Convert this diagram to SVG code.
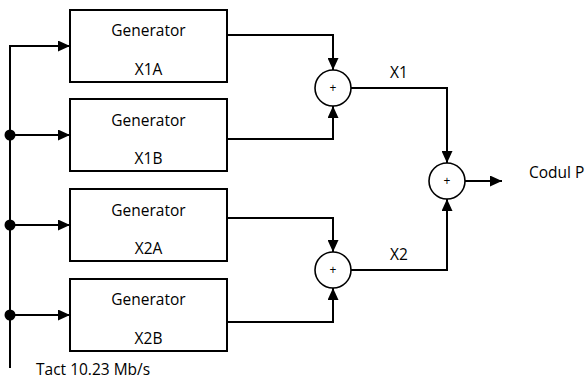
<svg xmlns="http://www.w3.org/2000/svg" width="585" height="380" viewBox="0 0 585 380">
<style>
.box{fill:#fff;stroke:#000;stroke-width:2}
.t{font-family:"Open Sans","Liberation Sans",sans-serif;font-size:15.5px;fill:#000}
.c{text-anchor:middle}
.ln{fill:none;stroke:#000;stroke-width:2}
.add{fill:#fff;stroke:#000;stroke-width:1.6}
.plus{font-family:"Open Sans","Liberation Sans",sans-serif;font-size:12px;fill:#000;text-anchor:middle}
</style>
<defs>
<marker id="arr" viewBox="0 0 12 11" refX="12" refY="5.5" markerWidth="12" markerHeight="11" markerUnits="userSpaceOnUse" orient="auto">
<path d="M0,0 L12,5.5 L0,11 Z" fill="#000"/>
</marker>
</defs>
<rect width="585" height="380" fill="#fff"/>
<g id="connectors">
<path class="ln" d="M10,368 V46 H70" marker-end="url(#arr)"/>
<path class="ln" d="M10,135 H70" marker-end="url(#arr)"/>
<path class="ln" d="M10,225 H70" marker-end="url(#arr)"/>
<path class="ln" d="M10,315 H70" marker-end="url(#arr)"/>
<circle cx="10" cy="135" r="5.5"/>
<circle cx="10" cy="225" r="5.5"/>
<circle cx="10" cy="315" r="5.5"/>
<path class="ln" d="M227,35 H333 V70" marker-end="url(#arr)"/>
<path class="ln" d="M227,139 H333 V106" marker-end="url(#arr)"/>
<path class="ln" d="M227,218 H333 V252" marker-end="url(#arr)"/>
<path class="ln" d="M227,322 H333 V288" marker-end="url(#arr)"/>
<path class="ln" d="M351,88 H447 V163" marker-end="url(#arr)"/>
<path class="ln" d="M351,270 H447 V199" marker-end="url(#arr)"/>
<path class="ln" d="M465,181 H502" marker-end="url(#arr)"/>
<text class="t c" x="399" y="78">X1</text>
<text class="t c" x="399" y="260">X2</text>
<text class="t" x="36" y="375">Tact 10.23 Mb/s</text>
<text class="t" x="529" y="178">Codul P</text>
</g>
<g id="gen-x1a">
<rect class="box" x="70" y="10" width="157" height="72"/>
<text class="t c" x="148.5" y="36">Generator</text>
<text class="t c" x="148.5" y="75">X1A</text>
</g>
<g id="gen-x1b">
<rect class="box" x="70" y="99" width="157" height="72"/>
<text class="t c" x="148.5" y="126">Generator</text>
<text class="t c" x="148.5" y="164">X1B</text>
</g>
<g id="gen-x2a">
<rect class="box" x="70" y="189" width="157" height="72"/>
<text class="t c" x="148.5" y="216">Generator</text>
<text class="t c" x="148.5" y="254">X2A</text>
</g>
<g id="gen-x2b">
<rect class="box" x="70" y="279" width="157" height="72"/>
<text class="t c" x="148.5" y="305">Generator</text>
<text class="t c" x="148.5" y="344">X2B</text>
</g>
<g id="sum-x1">
<circle class="add" cx="333" cy="88" r="18"/>
<text class="plus" x="333" y="92">+</text>
</g>
<g id="sum-x2">
<circle class="add" cx="333" cy="270" r="18"/>
<text class="plus" x="333" y="274">+</text>
</g>
<g id="sum-p">
<circle class="add" cx="447" cy="181" r="18"/>
<text class="plus" x="447" y="185">+</text>
</g>
</svg>
